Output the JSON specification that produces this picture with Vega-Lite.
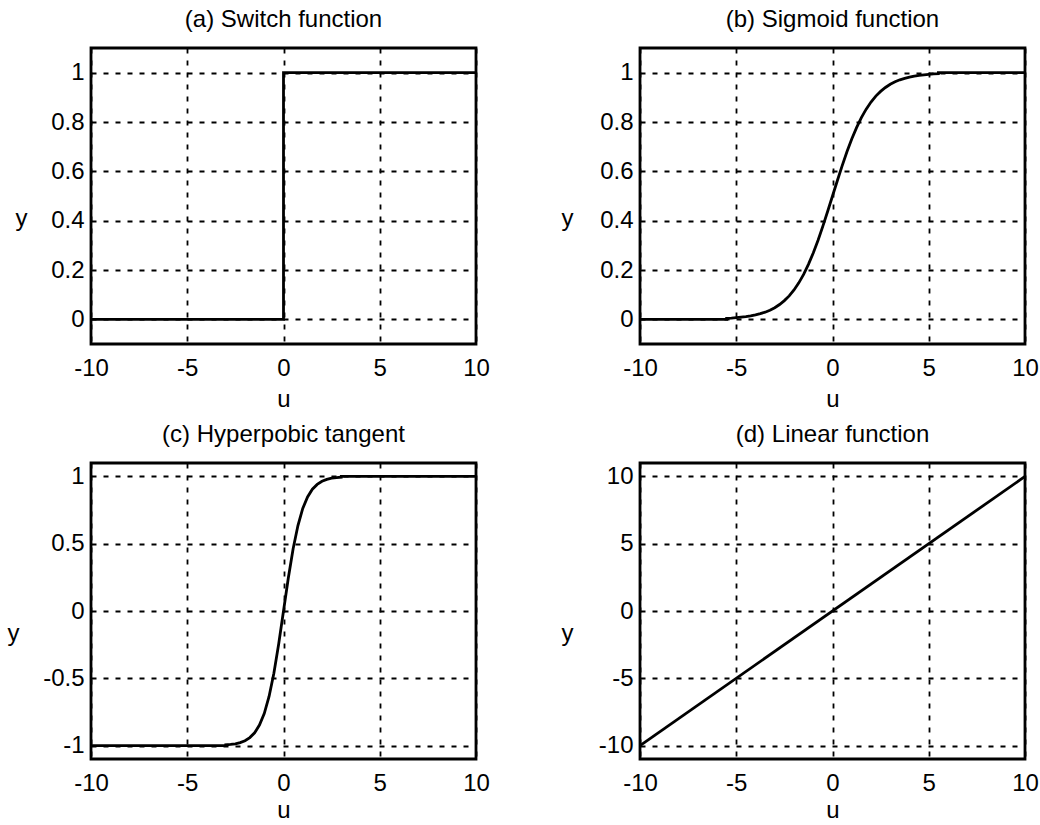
{
  "$schema": "https://vega.github.io/schema/vega-lite/v6.json",
  "background": "white",
  "padding": {"left": 5, "top": 6, "right": 5, "bottom": 3},
  "config": {
    "font": "Liberation Sans",
    "view": {"stroke": "black", "strokeWidth": 2.8},
    "axis": {
      "grid": true, "gridColor": "black", "gridDash": [5, 7], "gridWidth": 1.8, "gridOpacity": 1,
      "domain": false, "ticks": false,
      "labelFont": "Liberation Sans", "labelFontSize": 24, "labelColor": "black",
      "labelFlush": false, "labelBound": false, "labelOverlap": false,
      "labelExpr": "'' + datum.value",
      "titleFont": "Liberation Sans", "titleFontSize": 24, "titleFontWeight": "normal", "titleColor": "black"
    },
    "axisX": {"labelPadding": 12, "titleBaseline": "alphabetic", "titleAlign": "center", "titleX": 192.5, "titleY": 62},
    "axisY": {"labelPadding": 7, "titleAngle": 0, "titleAlign": "center", "titleBaseline": "alphabetic", "titleY": 177},
    "title": {"font": "Liberation Sans", "fontSize": 24, "fontWeight": "normal", "color": "black", "baseline": "alphabetic", "offset": 16, "anchor": "middle"},
    "line": {"color": "black", "strokeWidth": 2.8}
  },
  "datasets": {
    "switch": [
      {"u": -10, "y": 0, "i": 0}, {"u": 0, "y": 0, "i": 1}, {"u": 0, "y": 1, "i": 2}, {"u": 10, "y": 1, "i": 3}
    ],
    "sigmoid": [
      {"u": -10, "y": 0, "i": 0}, {"u": -5.5, "y": 0, "i": 1}, {"u": -5.5, "y": 0.004, "i": 2},
      {"u": -5.25, "y": 0.005, "i": 3}, {"u": -5, "y": 0.007, "i": 4}, {"u": -4.75, "y": 0.009, "i": 5},
      {"u": -4.5, "y": 0.011, "i": 6}, {"u": -4.25, "y": 0.014, "i": 7}, {"u": -4, "y": 0.018, "i": 8},
      {"u": -3.75, "y": 0.023, "i": 9}, {"u": -3.5, "y": 0.029, "i": 10}, {"u": -3.25, "y": 0.037, "i": 11},
      {"u": -3, "y": 0.047, "i": 12}, {"u": -2.75, "y": 0.06, "i": 13}, {"u": -2.5, "y": 0.076, "i": 14},
      {"u": -2.25, "y": 0.095, "i": 15}, {"u": -2, "y": 0.119, "i": 16}, {"u": -1.75, "y": 0.148, "i": 17},
      {"u": -1.5, "y": 0.182, "i": 18}, {"u": -1.25, "y": 0.223, "i": 19}, {"u": -1, "y": 0.269, "i": 20},
      {"u": -0.75, "y": 0.321, "i": 21}, {"u": -0.5, "y": 0.378, "i": 22}, {"u": -0.25, "y": 0.438, "i": 23},
      {"u": 0, "y": 0.5, "i": 24}, {"u": 0.25, "y": 0.562, "i": 25}, {"u": 0.5, "y": 0.622, "i": 26},
      {"u": 0.75, "y": 0.679, "i": 27}, {"u": 1, "y": 0.731, "i": 28}, {"u": 1.25, "y": 0.777, "i": 29},
      {"u": 1.5, "y": 0.818, "i": 30}, {"u": 1.75, "y": 0.852, "i": 31}, {"u": 2, "y": 0.881, "i": 32},
      {"u": 2.25, "y": 0.905, "i": 33}, {"u": 2.5, "y": 0.924, "i": 34}, {"u": 2.75, "y": 0.94, "i": 35},
      {"u": 3, "y": 0.953, "i": 36}, {"u": 3.25, "y": 0.963, "i": 37}, {"u": 3.5, "y": 0.971, "i": 38},
      {"u": 3.75, "y": 0.977, "i": 39}, {"u": 4, "y": 0.982, "i": 40}, {"u": 4.25, "y": 0.986, "i": 41},
      {"u": 4.5, "y": 0.989, "i": 42}, {"u": 4.75, "y": 0.991, "i": 43}, {"u": 5, "y": 0.993, "i": 44},
      {"u": 5.25, "y": 0.995, "i": 45}, {"u": 5.5, "y": 0.996, "i": 46}, {"u": 5.5, "y": 1, "i": 47},
      {"u": 10, "y": 1, "i": 48}
    ],
    "tanh": [
      {"u": -10, "y": -1, "i": 0}, {"u": -3, "y": -1, "i": 1}, {"u": -3, "y": -0.995, "i": 2},
      {"u": -2.75, "y": -0.992, "i": 3}, {"u": -2.5, "y": -0.987, "i": 4}, {"u": -2.25, "y": -0.978, "i": 5},
      {"u": -2, "y": -0.964, "i": 6}, {"u": -1.75, "y": -0.941, "i": 7}, {"u": -1.5, "y": -0.905, "i": 8},
      {"u": -1.25, "y": -0.848, "i": 9}, {"u": -1, "y": -0.762, "i": 10}, {"u": -0.75, "y": -0.635, "i": 11},
      {"u": -0.5, "y": -0.462, "i": 12}, {"u": -0.25, "y": -0.245, "i": 13}, {"u": 0, "y": 0, "i": 14},
      {"u": 0.25, "y": 0.245, "i": 15}, {"u": 0.5, "y": 0.462, "i": 16}, {"u": 0.75, "y": 0.635, "i": 17},
      {"u": 1, "y": 0.762, "i": 18}, {"u": 1.25, "y": 0.848, "i": 19}, {"u": 1.5, "y": 0.905, "i": 20},
      {"u": 1.75, "y": 0.941, "i": 21}, {"u": 2, "y": 0.964, "i": 22}, {"u": 2.25, "y": 0.978, "i": 23},
      {"u": 2.5, "y": 0.987, "i": 24}, {"u": 2.75, "y": 0.992, "i": 25}, {"u": 3, "y": 0.995, "i": 26},
      {"u": 3, "y": 1, "i": 27}, {"u": 10, "y": 1, "i": 28}
    ],
    "linear": [
      {"u": -10, "y": -10, "i": 0}, {"u": 10, "y": 10, "i": 1}
    ]
  },
  "columns": 2,
  "spacing": {"row": 119, "column": 164},
  "bounds": "flush",
  "concat": [
    {
      "title": "(a) Switch function",
      "width": 385, "height": 296,
      "data": {"name": "switch"},
      "mark": {"type": "line"},
      "encoding": {
        "x": {"field": "u", "type": "quantitative", "title": "u", "scale": {"domain": [-10, 10], "nice": false, "zero": false}, "axis": {"values": [-10, -5, 0, 5, 10]}},
        "y": {"field": "y", "type": "quantitative", "title": "y", "scale": {"domain": [-0.1, 1.1], "nice": false, "zero": false}, "axis": {"values": [0, 0.2, 0.4, 0.6, 0.8, 1], "titleX": -70}},
        "order": {"field": "i", "type": "quantitative"}
      }
    },
    {
      "title": "(b) Sigmoid function",
      "width": 385, "height": 296,
      "data": {"name": "sigmoid"},
      "mark": {"type": "line"},
      "encoding": {
        "x": {"field": "u", "type": "quantitative", "title": "u", "scale": {"domain": [-10, 10], "nice": false, "zero": false}, "axis": {"values": [-10, -5, 0, 5, 10]}},
        "y": {"field": "y", "type": "quantitative", "title": "y", "scale": {"domain": [-0.1, 1.1], "nice": false, "zero": false}, "axis": {"values": [0, 0.2, 0.4, 0.6, 0.8, 1], "titleX": -73}},
        "order": {"field": "i", "type": "quantitative"}
      }
    },
    {
      "title": "(c) Hyperpobic tangent",
      "width": 385, "height": 296,
      "data": {"name": "tanh"},
      "mark": {"type": "line"},
      "encoding": {
        "x": {"field": "u", "type": "quantitative", "title": "u", "scale": {"domain": [-10, 10], "nice": false, "zero": false}, "axis": {"values": [-10, -5, 0, 5, 10], "titleY": 58}},
        "y": {"field": "y", "type": "quantitative", "title": "y", "scale": {"domain": [-1.1, 1.1], "nice": false, "zero": false}, "axis": {"values": [-1, -0.5, 0, 0.5, 1], "titleX": -78}},
        "order": {"field": "i", "type": "quantitative"}
      }
    },
    {
      "title": "(d) Linear function",
      "width": 385, "height": 296,
      "data": {"name": "linear"},
      "mark": {"type": "line"},
      "encoding": {
        "x": {"field": "u", "type": "quantitative", "title": "u", "scale": {"domain": [-10, 10], "nice": false, "zero": false}, "axis": {"values": [-10, -5, 0, 5, 10], "titleY": 58}},
        "y": {"field": "y", "type": "quantitative", "title": "y", "scale": {"domain": [-11, 11], "nice": false, "zero": false}, "axis": {"values": [-10, -5, 0, 5, 10], "titleX": -73}},
        "order": {"field": "i", "type": "quantitative"}
      }
    }
  ]
}
